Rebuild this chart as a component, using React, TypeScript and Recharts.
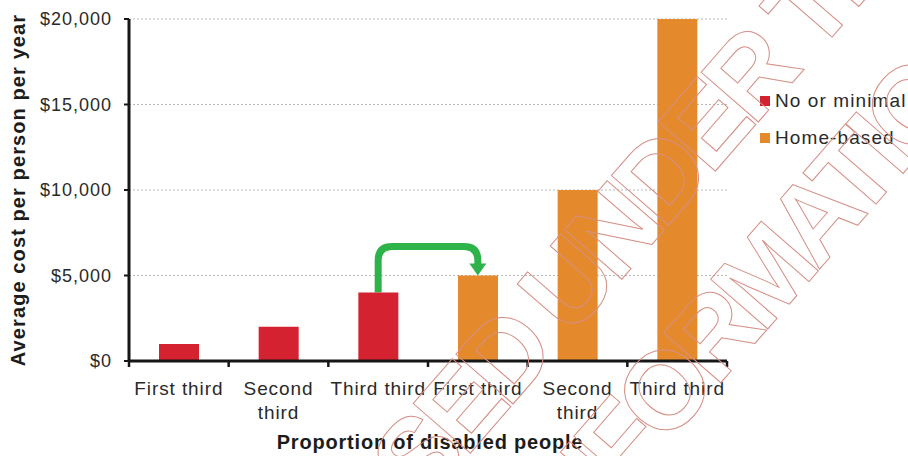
import React from "react";
import {
  BarChart,
  Bar,
  XAxis,
  YAxis,
  CartesianGrid,
  Legend,
  ReferenceArea,
} from "recharts";

// Category labels along the x axis (a line break marks where a label wraps)
const categoryLabels = [
  "First third",
  "Second\nthird",
  "Third third",
  "First third",
  "Second\nthird",
  "Third third",
];

// Average cost per person per year, by support type
const noOrMinimal = [1000, 2000, 4000, null, null, null];
const homeBased = [null, null, null, 5000, 10000, 20000];

const seriesNames = ["No or minimal", "Home-based"];
const yTicks = [0, 5000, 10000, 15000, 20000];

// Arrow from the top of the last "No or minimal" bar to the first "Home-based" bar
const arrowFromValue = 4000;
const arrowToValue = 5000;
const arrowPeakValue = 6700;

const xTitle = "Proportion of disabled people";
const yTitle = "Average cost per person per year";
const stampLines = ["RELEASED UNDER THE", "FREEDOM OF INFORMATION"];

const rows = categoryLabels.map((label, i) => ({
  key: `c${i}`,
  label,
  noOrMinimal: noOrMinimal[i],
  homeBased: homeBased[i],
}));

const RED = "#d42231";
const ORANGE = "#e48a2c";
const GREEN = "#2eb34b";
const AXIS = "#161616";
const TEXT = "#2a2a2a";
const FONT = "'Liberation Sans', Arial, sans-serif";

// Category label, plus tick marks on the band edges (between categories)
const CategoryTick = (props: any) => {
  const { x, y, payload, index, visibleTicksCount } = props;
  const row = rows.find((r) => r.key === payload.value);
  const lines = (row ? row.label : "").split("\n");
  const half = payload && Number.isFinite(payload.offset) ? payload.offset : 0;
  const isLast = index === visibleTicksCount - 1;
  return (
    <g>
      <line x1={x - half} x2={x - half} y1={y} y2={y + 6} stroke={AXIS} strokeWidth={2.5} />
      {isLast && (
        <line x1={x + half} x2={x + half} y1={y} y2={y + 6} stroke={AXIS} strokeWidth={2.5} />
      )}
      <text
        x={x}
        y={y}
        textAnchor="middle"
        fill={TEXT}
        fontSize={19}
        letterSpacing={0.9}
        fontFamily={FONT}
      >
        {lines.map((line, i) => (
          <tspan key={i} x={x} dy={i === 0 ? 34 : 24}>
            {line}
          </tspan>
        ))}
      </text>
    </g>
  );
};

const ArrowShape = (props: any) => {
  const { x, y, width, height } = props;
  if (![x, y, width, height].every((v) => Number.isFinite(v))) return <g />;
  const xl = x + width / 4;
  const xr = x + (width * 3) / 4;
  const yTop = y;
  const yStart = y + height;
  const yTip =
    y + (height * (arrowPeakValue - arrowToValue)) / (arrowPeakValue - arrowFromValue);
  const r = 14;
  const head = 12;
  const d = `M ${xl} ${yStart} L ${xl} ${yTop + r} Q ${xl} ${yTop} ${xl + r} ${yTop} L ${
    xr - r
  } ${yTop} Q ${xr} ${yTop} ${xr} ${yTop + r} L ${xr} ${yTip - head + 1}`;
  return (
    <g>
      <path d={d} fill="none" stroke={GREEN} strokeWidth={7} />
      <polygon
        points={`${xr - 8.5},${yTip - head} ${xr + 8.5},${yTip - head} ${xr},${yTip}`}
        fill={GREEN}
      />
    </g>
  );
};

const LegendContent = (props: any) => {
  const payload = [...(props.payload || [])].sort(
    (a: any, b: any) => seriesNames.indexOf(a.value) - seriesNames.indexOf(b.value)
  );
  return (
    <div style={{ fontFamily: FONT }}>
      {payload.map((entry: any) => (
        <div
          key={entry.value}
          style={{
            display: "flex",
            alignItems: "center",
            height: 37,
            whiteSpace: "nowrap",
          }}
        >
          <span
            style={{
              display: "inline-block",
              width: 10,
              height: 10,
              background: entry.color,
              marginRight: 5,
            }}
          />
          <span style={{ fontSize: 19, letterSpacing: 1.1, color: TEXT }}>{entry.value}</span>
        </div>
      ))}
    </div>
  );
};

const YTitle = (props: any) => {
  const { viewBox } = props;
  const cy = viewBox ? viewBox.y + viewBox.height / 2 : 190;
  return (
    <text
      x={18}
      y={cy}
      transform={`rotate(-90 18 ${cy})`}
      textAnchor="middle"
      dominantBaseline="central"
      fontSize={20}
      fontWeight="bold"
      letterSpacing={1.1}
      fill="#1c1c1c"
      fontFamily={FONT}
    >
      {yTitle}
    </text>
  );
};

const XTitle = (props: any) => {
  const { viewBox } = props;
  const cx = viewBox ? viewBox.x + viewBox.width / 2 + 2 : 430;
  return (
    <text
      x={cx}
      y={449}
      textAnchor="middle"
      fontSize={20}
      fontWeight="bold"
      letterSpacing={0.8}
      fill="#1c1c1c"
      fontFamily={FONT}
    >
      {xTitle}
    </text>
  );
};

// Outlined release stamp laid over the chart
const Stamp = () => (
  <svg
    width={908}
    height={456}
    style={{ position: "absolute", left: 0, top: 0, pointerEvents: "none" }}
  >
    <g
      fill="none"
      stroke="#d58f86"
      strokeWidth={1}
      fontFamily={FONT}
      fontWeight="bold"
      fontSize={110}
      letterSpacing={-8}
      textAnchor="middle"
    >
      <text x={574} y={334} transform="rotate(-49 574 334)">
        {stampLines[0]}
      </text>
      <text x={566} y={561} transform="rotate(-49 566 561)">
        {stampLines[1]}
      </text>
    </g>
  </svg>
);

export default function App() {
  return (
    <div
      style={{
        position: "absolute",
        left: 0,
        top: 0,
        width: 908,
        height: 456,
        background: "#ffffff",
        overflow: "hidden",
        fontFamily: FONT,
      }}
    >
      <BarChart
        width={908}
        height={456}
        data={rows}
        margin={{ top: 19, right: 181, bottom: 0, left: 0 }}
      >
        <CartesianGrid vertical={false} stroke="#b9b9b9" strokeDasharray="2 2" />
        <XAxis
          dataKey="key"
          height={95}
          axisLine={{ stroke: AXIS, strokeWidth: 3 }}
          tickLine={false}
          tickSize={0}
          tickMargin={0}
          interval={0}
          tick={<CategoryTick />}
          label={<XTitle />}
        />
        <YAxis
          width={129}
          domain={[0, 20000]}
          ticks={yTicks}
          axisLine={{ stroke: AXIS, strokeWidth: 3 }}
          tickLine={{ stroke: AXIS, strokeWidth: 2 }}
          tickSize={5}
          tickMargin={12}
          tick={{ fill: TEXT, fontSize: 18, letterSpacing: 1, fontFamily: FONT }}
          tickFormatter={(v: number) => `$${v.toLocaleString("en-US")}`}
          label={<YTitle />}
        />
        <Legend
          layout="vertical"
          align="center"
          verticalAlign="middle"
          content={<LegendContent />}
          wrapperStyle={{ position: "absolute", left: 760, top: 82, width: 160 }}
        />
        <Bar
          dataKey="noOrMinimal"
          name={seriesNames[0]}
          stackId="cost"
          fill={RED}
          barSize={40}
          isAnimationActive={false}
        />
        <Bar
          dataKey="homeBased"
          name={seriesNames[1]}
          stackId="cost"
          fill={ORANGE}
          barSize={40}
          isAnimationActive={false}
        />
        <ReferenceArea
          x1="c2"
          x2="c3"
          y1={arrowFromValue}
          y2={arrowPeakValue}
          shape={(p: any) => <ArrowShape {...p} />}
          fill="none"
          stroke="none"
        />
      </BarChart>
      <Stamp />
    </div>
  );
}
